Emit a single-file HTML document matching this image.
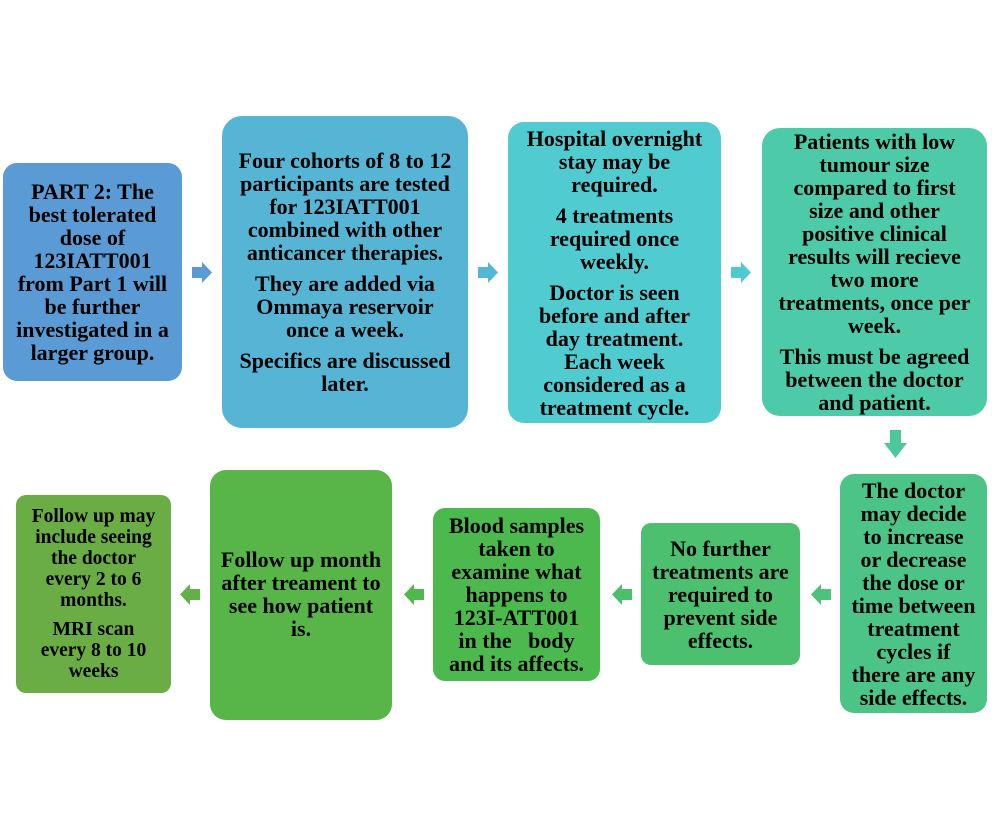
<!DOCTYPE html>
<html><head><style>
body{margin:0;width:992px;height:836px;background:#fff;position:relative;overflow:hidden;font-family:"Liberation Serif",serif;font-weight:bold;}
.b{position:absolute;display:flex;flex-direction:column;justify-content:center;align-items:center;text-align:center;font-size:22px;line-height:23px;color:#000;box-sizing:border-box;white-space:nowrap;}
.b p{margin:0 0 8px 0;}
.b p:last-child{margin:0;}
svg{position:absolute;left:0;top:0;}
</style></head><body>
<svg width="992" height="836">
<g>
<polygon points="192,267 202,267 202,262 212,272.5 202,283 202,278 192,278" fill="#5b9bd5"/>
<polygon points="478,267 488,267 488,262 498,272.5 488,283 488,278 478,278" fill="#54b7d5"/>
<polygon points="731,267 741,267 741,262 751,272.5 741,283 741,278 731,278" fill="#4fcad0"/>
<polygon points="890,430 901,430 901,443 907,443 895.5,458 884,443 890,443" fill="#4cc99b"/>
<polygon points="831,589 821,589 821,584 811,594.5 821,605 821,600 831,600" fill="#4cc27a"/>
<polygon points="632,589 622,589 622,584 612,594.5 622,605 622,600 632,600" fill="#4cbf6a"/>
<polygon points="424,589 414,589 414,584 404,594.5 414,605 414,600 424,600" fill="#50b84c"/>
<polygon points="200,589 190,589 190,584 180,594.5 190,605 190,600 200,600" fill="#62b047"/>
</g>
</svg>
<div class="b" style="left:3px;top:163px;width:179px;height:218px;background:#5b9bd5;border-radius:14px">PART 2: The<br>best tolerated<br>dose of<br>123IATT001<br>from Part 1 will<br>be further<br>investigated in a<br>larger group.</div>
<div class="b" style="left:222px;top:116px;width:246px;height:312px;background:#56b4d4;border-radius:20px"><p>Four cohorts of 8 to 12<br>participants are tested<br>for 123IATT001<br>combined with other<br>anticancer therapies.</p><p>They are added via<br>Ommaya reservoir<br>once a week.</p><p>Specifics are discussed<br>later.</p></div>
<div class="b" style="left:508px;top:122px;width:213px;height:301px;background:#50cbd0;border-radius:16px"><p>Hospital overnight<br>stay may be<br>required.</p><p>4 treatments<br>required once<br>weekly.</p><p>Doctor is seen<br>before and after<br>day treatment.<br>Each week<br>considered as a<br>treatment cycle.</p></div>
<div class="b" style="left:762px;top:128px;width:225px;height:288px;background:#4dcaa8;border-radius:18px"><p>Patients with low<br>tumour size<br>compared to first<br>size and other<br>positive clinical<br>results will recieve<br>two more<br>treatments, once per<br>week.</p><p>This must be agreed<br>between the doctor<br>and patient.</p></div>
<div class="b" style="left:840px;top:474px;width:147px;height:239px;background:#4dc487;border-radius:14px">The doctor<br>may decide<br>to increase<br>or decrease<br>the dose or<br>time between<br>treatment<br>cycles if<br>there are any<br>side effects.</div>
<div class="b" style="left:641px;top:523px;width:159px;height:142px;background:#4dc06f;border-radius:10px">No further<br>treatments are<br>required to<br>prevent side<br>effects.</div>
<div class="b" style="left:433px;top:508px;width:167px;height:173px;background:#4cb94e;border-radius:12px">Blood samples<br>taken to<br>examine what<br>happens to<br>123I-ATT001<br>in the &nbsp; body<br>and its affects.</div>
<div class="b" style="left:210px;top:470px;width:182px;height:250px;background:#58b548;border-radius:16px;justify-content:flex-start;padding-top:78px">Follow up month<br>after treament to<br>see how patient<br>is.</div>
<div class="b" style="left:16px;top:495px;width:155px;height:198px;background:#6aad45;border-radius:10px;font-size:19.5px;line-height:21px"><p>Follow up may<br>include seeing<br>the doctor<br>every 2 to 6<br>months.</p><p>MRI scan<br>every 8 to 10<br>weeks</p></div>
</body></html>
